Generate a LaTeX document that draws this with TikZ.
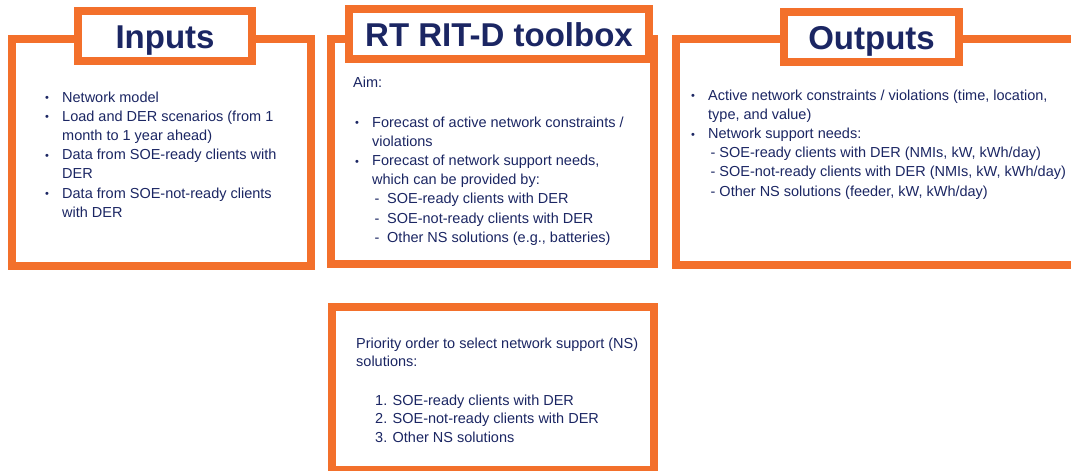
\documentclass[tikz,border=0pt]{standalone}
\usepackage{fontspec}
\setmainfont{Liberation Sans}
\definecolor{rtorange}{RGB}{243,112,43}
\definecolor{rtnavy}{RGB}{27,38,99}
% bullet and hanging indent for the list lines
\newcommand\bul{\makebox[17pt][l]{\raisebox{0.4pt}{\fontsize{11}{11}\selectfont •}}}
\newcommand\ind{\makebox[17pt]{}}
\newcommand\dashitem{\makebox[15pt][l]{\,-}}
\begin{document}
\begin{tikzpicture}[x=1pt,y=-1pt,
  panel/.style={draw=rtorange, line width=8.5pt, fill=white, inner sep=0pt},
  titlebox/.style={panel, text=rtnavy, font=\fontsize{33}{33}\selectfont\bfseries,
    text height=30pt, text depth=6pt, minimum height=50pt},
  body/.style={text=rtnavy, inner sep=0pt, anchor=base west,
    font=\fontsize{14.5}{19.2}\selectfont}
]
\useasboundingbox (0,0) rectangle (1071,471);
\clip (0,0) rectangle (1071,471);
\fill[white] (0,0) rectangle (1071,471);

% outer panels
\node[panel, minimum width=299pt, minimum height=227pt] (inbox)  at (161.5,152.5) {};
\node[panel, minimum width=323pt, minimum height=225pt] (toolbox) at (492.5,151.5) {};
\node[panel, minimum width=409pt, minimum height=226pt] (outbox) at (880.5,152) {};
\node[panel, minimum width=322pt, minimum height=163.5pt] (prio) at (493,388.75) {};

% title tabs
\node[titlebox, minimum width=174pt] (intitle)   at (165,36)   {Inputs};
\node[titlebox, minimum width=300pt] (tooltitle) at (499,34)   {RT RIT-D toolbox};
\node[titlebox, minimum width=175pt] (outtitle)  at (871.5,37) {Outputs};

% panel texts
\node[body] (intext) at (45,102) {\parbox[t]{265pt}{%
  \bul Network model\\
  \bul Load and DER scenarios (from 1\\
  \ind month to 1 year ahead)\\
  \bul Data from SOE-ready clients with\\
  \ind DER\\
  \bul Data from SOE-not-ready clients\\
  \ind with DER}};

\node[body] (tooltext) at (353,87) {\parbox[t]{295pt}{%
  Aim:\\[20.8pt]
  \makebox[2pt]{}\bul Forecast of active network constraints /\\
  \makebox[2pt]{}\ind violations\\
  \makebox[2pt]{}\bul Forecast of network support needs,\\
  \makebox[2pt]{}\ind which can be provided by:\\
  \makebox[2pt]{}\ind\dashitem SOE-ready clients with DER\\
  \makebox[2pt]{}\ind\dashitem SOE-not-ready clients with DER\\
  \makebox[2pt]{}\ind\dashitem Other NS solutions (e.g., batteries)}};

\node[body] (outtext) at (691,100) {\parbox[t]{380pt}{%
  \bul Active network constraints / violations (time, location,\\
  \ind type, and value)\\
  \bul Network support needs:\\
  \ind\,- SOE-ready clients with DER (NMIs, kW, kWh/day)\\
  \ind\,- SOE-not-ready clients with DER (NMIs, kW, kWh/day)\\
  \ind\,- Other NS solutions (feeder, kW, kWh/day)}};

\node[body, font=\fontsize{14.5}{18.6}\selectfont] (priotext) at (356,348) {\parbox[t]{295pt}{%
  Priority order to select network support (NS)\\
  solutions:\\[19.8pt]
  \makebox[19pt]{}1. SOE-ready clients with DER\\
  \makebox[19pt]{}2. SOE-not-ready clients with DER\\
  \makebox[19pt]{}3. Other NS solutions}};
\end{tikzpicture}
\end{document}
